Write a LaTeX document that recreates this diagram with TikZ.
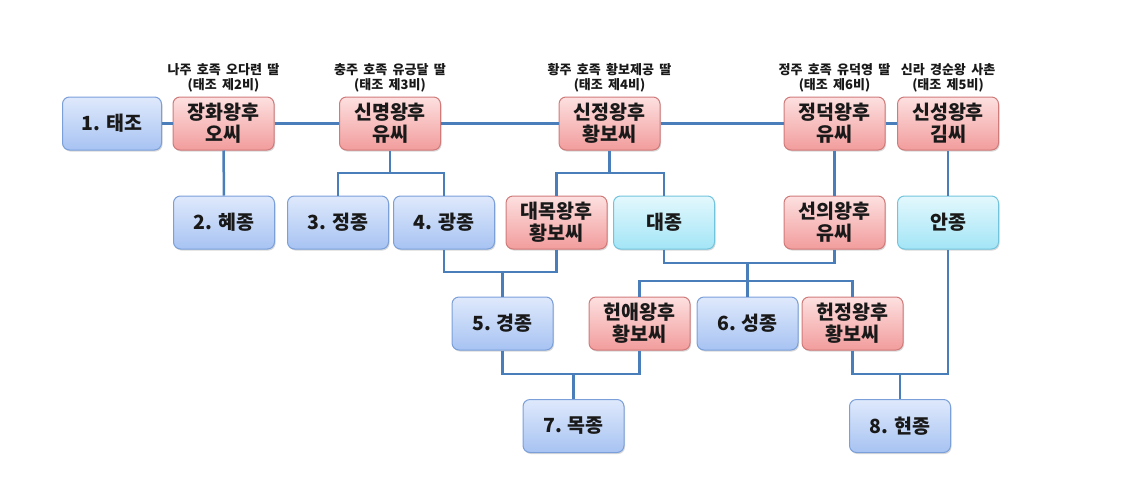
\documentclass[tikz,border=0pt]{standalone}
\usepackage{fontspec}
\setmainfont{Noto Sans CJK KR}
\newfontfamily\notefont{Noto Sans CJK KR}[WordSpace=1.8]
\usetikzlibrary{shadows}

\definecolor{kingtop}{HTML}{DFE9FC}
\definecolor{kingbot}{HTML}{A7C3F2}
\definecolor{kingline}{HTML}{7A9FD9}
\definecolor{queentop}{HTML}{FDE0E0}
\definecolor{queenbot}{HTML}{F29C9C}
\definecolor{queenline}{HTML}{D07A7A}
\definecolor{princetop}{HTML}{E3F8FD}
\definecolor{princebot}{HTML}{A3E5F6}
\definecolor{princeline}{HTML}{72C4DD}
\definecolor{linkblue}{HTML}{4A7EBB}

\begin{document}
\begin{tikzpicture}[x=1pt,y=-1pt]
		\tikzstyle{box}=[rectangle,rounded corners=7pt,minimum width=101pt,minimum height=53pt,inner sep=0pt,align=center,line width=1pt,text=black!90,font=\bfseries\fontsize{19.5}{22}\selectfont,drop shadow={shadow xshift=1pt,shadow yshift=-1.5pt,opacity=.25,fill=black!60}]
		\tikzstyle{king}=[box,draw=kingline,top color=kingtop,bottom color=kingbot]
		\tikzstyle{queen}=[box,draw=queenline,top color=queentop,bottom color=queenbot]
		\tikzstyle{prince}=[box,draw=princeline,top color=princetop,bottom color=princebot]
		\tikzstyle{note}=[align=center,inner sep=0pt,text=black!90,font=\notefont\bfseries\fontsize{13}{14.5}\selectfont]
		\tikzstyle{edge}=[draw=linkblue,line width=2.5pt]

		\useasboundingbox (0,0) rectangle (1139,482);

		% kings
		 \node [king,minimum width=99pt] (taejo) at (112,123.5) {1. 태조};
		 \node [king] (hyejong) at (224,222.5) {2. 혜종};
		 \node [king] (jeongjong) at (338,222.5) {3. 정종};
		 \node [king] (gwangjong) at (444,222.5) {4. 광종};
		 \node [king] (gyeongjong) at (502.5,323.5) {5. 경종};
		 \node [king] (seongjong) at (747.5,323.5) {6. 성종};
		 \node [king] (mokjong) at (573.5,426) {7. 목종};
		 \node [king] (hyeonjong) at (900,426) {8. 현종};

		% queens
		 \node [queen] (janghwa) at (223.5,123.5) {장화왕후\\오씨};
		 \node [queen] (sinmyeong) at (390,123.5) {신명왕후\\유씨};
		 \node [queen] (sinjeong) at (609.5,123.5) {신정왕후\\황보씨};
		 \node [queen] (jeongdeok) at (834.5,123.5) {정덕왕후\\유씨};
		 \node [queen] (sinseong) at (948,123.5) {신성왕후\\김씨};
		 \node [queen] (daemok) at (556.5,222.5) {대목왕후\\황보씨};
		 \node [queen] (seonui) at (834.5,222.5) {선의왕후\\유씨};
		 \node [queen] (heonae) at (639.5,323.5) {헌애왕후\\황보씨};
		 \node [queen] (heonjeong) at (852.5,323.5) {헌정왕후\\황보씨};

		 \node [prince] (daejong) at (664,222.5) {대종};
		 \node [prince] (anjong) at (948,222.5) {안종};

		% notes
		 \node [note] (n2) at (223.5,78) {나주 호족 오다련 딸\\(태조 제2비)};
		 \node [note] (n3) at (390,78) {충주 호족 유긍달 딸\\(태조 제3비)};
		 \node [note] (n4) at (609.5,78) {황주 호족 황보제공 딸\\(태조 제4비)};
		 \node [note] (n6) at (834.5,78) {정주 호족 유덕영 딸\\(태조 제6비)};
		 \node [note] (n5) at (948,78) {신라 경순왕 사촌\\(태조 제5비)};

		 \coordinate (c3) at (390,173);
		 \coordinate (c4) at (609.5,173);
		 \coordinate (c5) at (502.5,272);
		 \coordinate (c6) at (747.5,263);
		 \coordinate (c6b) at (747.5,281);
		 \coordinate (c7) at (573.5,374);
		 \coordinate (c8) at (900,374);

		 \path[edge] (taejo) -- (janghwa);
		 \path[edge] (janghwa) -- (sinmyeong);
		 \path[edge] (sinmyeong) -- (sinjeong);
		 \path[edge] (sinjeong) -- (jeongdeok);
		 \path[edge] (jeongdeok) -- (sinseong);

		 \path[edge] (janghwa) -- (hyejong);
		 \path[edge] (sinmyeong) -- (c3);
		 \path[edge] (jeongjong) |- (c3) -| (gwangjong);
		 \path[edge] (sinjeong) -- (c4);
		 \path[edge] (daemok) |- (c4) -| (daejong);
		 \path[edge] (jeongdeok) -- (seonui);
		 \path[edge] (sinseong) -- (anjong);

		 \path[edge] (gwangjong) |- (c5) -| (daemok);
		 \path[edge] (c5) -- (gyeongjong);
		 \path[edge] (daejong) |- (c6) -| (seonui);
		 \path[edge] (c6) -- (seongjong);
		 \path[edge] (heonae) |- (c6b) -| (heonjeong);
		 \path[edge] (gyeongjong) |- (c7) -| (heonae);
		 \path[edge] (c7) -- (mokjong);
		 \path[edge] (heonjeong) |- (c8) -| (anjong);
		 \path[edge] (c8) -- (hyeonjong);
       
	\end{tikzpicture}
\end{document}
